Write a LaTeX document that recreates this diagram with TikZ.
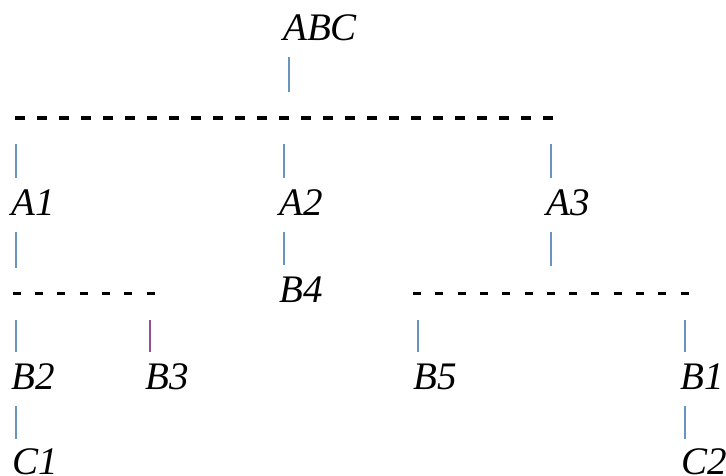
\documentclass[tikz,border=0pt]{standalone}
\usepackage{fontspec}
\setmainfont{Liberation Serif}
\definecolor{barblue}{RGB}{105,148,190}
\definecolor{barpurple}{RGB}{150,80,150}

\begin{document}
\begin{tikzpicture}[x=1pt,y=1pt,
    item/.style={anchor=base west, inner sep=0pt, font=\fontsize{39}{44}\selectfont\itshape},
    bar/.style={draw=barblue, line width=1.4pt},
    fromnode/.style={bar, shorten <=17pt, shorten >=26pt},
    tonode/.style={bar, shorten <=26pt, shorten >=11pt},
    between/.style={bar, shorten <=17pt, shorten >=11pt},
    railtop/.style={draw=black, line width=4pt, dash pattern=on 10pt off 12pt},
    raillow/.style={draw=black, line width=3pt, dash pattern=on 8pt off 14.3pt}]
  \useasboundingbox (0,0) rectangle (726,-475);

  % labels
  \node[item] (ABC) at (283,-40) {ABC};
  \node[item] (A1) at (11,-215) {A1};
  \node[item] (A2) at (279,-215) {A2};
  \node[item] (A3) at (546,-215) {A3};
  \node[item] (B4) at (279,-302) {B4};
  \node[item] (B2) at (11,-389) {B2};
  \node[item] (B3) at (145,-389) {B3};
  \node[item] (B5) at (413,-389) {B5};
  \node[item] (B1) at (680,-389) {B1};
  \node[item] (C1) at (12,-474) {C1};
  \node[item] (C2) at (681,-474) {C2};

  % dashed rails
  \coordinate (top w) at (15,-118);   \coordinate (top e) at (553,-118);
  \coordinate (left w) at (12.7,-293.7); \coordinate (left e) at (155,-293.7);
  \coordinate (right w) at (413,-293.7); \coordinate (right e) at (689,-293.7);
  \draw[railtop] (top w) -- (top e);
  \draw[raillow] (left w) -- (left e);
  \draw[raillow] (right w) -- (right e);

  % junctions on the rails
  \coordinate (jABC) at (289,-118);
  \coordinate (jA1) at (16,-118);  \coordinate (jA2) at (284,-118);  \coordinate (jA3) at (551,-118);
  \coordinate (jB2) at (16,-293.7);  \coordinate (jB3) at (150,-293.7);
  \coordinate (jR1) at (551,-293.7); \coordinate (jB5) at (418,-293.7); \coordinate (jB1) at (685,-293.7);

  % bars
  \draw[fromnode] (jABC |- ABC.base) -- (jABC);
  \draw[tonode] (jA1) -- (jA1 |- A1.north);
  \draw[tonode] (jA2) -- (jA2 |- A2.north);
  \draw[tonode] (jA3) -- (jA3 |- A3.north);
  \draw[fromnode] (jA1 |- A1.base) -- (jB2);
  \draw[between] (jA2 |- A2.base) -- (jA2 |- B4.north);
  \draw[fromnode, shorten >=27.7pt] (jA3 |- A3.base) -- (jR1);
  \draw[tonode] (jB2) -- (jB2 |- B2.north);
  \draw[tonode, draw=barpurple] (jB3) -- (jB3 |- B3.north);
  \draw[tonode] (jB5) -- (jB5 |- B5.north);
  \draw[tonode] (jB1) -- (jB1 |- B1.north);
  \draw[between, shorten >=9pt] (jB2 |- B2.base) -- (jB2 |- C1.north);
  \draw[between, shorten >=9pt] (jB1 |- B1.base) -- (jB1 |- C2.north);
\end{tikzpicture}
\end{document}
